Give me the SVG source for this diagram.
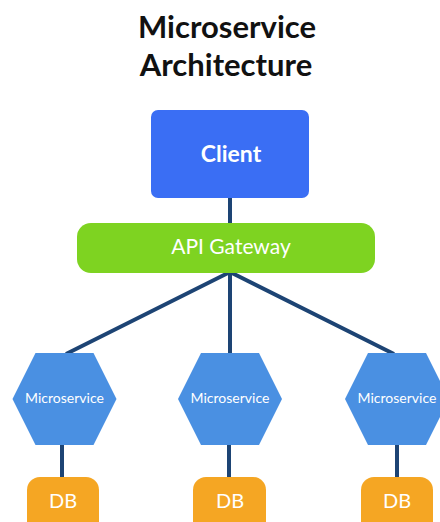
<svg xmlns="http://www.w3.org/2000/svg" width="440" height="522" viewBox="0 0 440 522">
  <style>
    .title { font-family: Lato, "Open Sans", sans-serif; font-weight: 700; font-size: 31px; fill: #111111; text-anchor: middle; }
    .label { font-family: Lato, "Open Sans", sans-serif; fill: #ffffff; text-anchor: middle; }
    .link { stroke: #1d4474; stroke-width: 4; fill: none; stroke-linecap: butt; }
    .hex { fill: #4a90e2; }
    .db { fill: #f5a623; }
  </style>
  <defs>
    <polygon id="hexShape" points="-52,0 -29,-46 29,-46 52,0 29,46 -29,46"/>
  </defs>
  <rect width="440" height="522" fill="#ffffff"/>

  <text class="title" x="227" y="38">Microservice</text>
  <text class="title" x="226" y="76">Architecture</text>

  <!-- connectors -->
  <g id="connectors">
    <line class="link" x1="230" y1="198" x2="230" y2="224"/>
    <line class="link" x1="230" y1="272" x2="66" y2="354"/>
    <line class="link" x1="230" y1="272" x2="230" y2="354"/>
    <line class="link" x1="230" y1="272" x2="394" y2="354"/>
    <line class="link" x1="62" y1="444" x2="62" y2="478"/>
    <line class="link" x1="229" y1="444" x2="229" y2="478"/>
    <line class="link" x1="397" y1="444" x2="397" y2="478"/>
  </g>

  <g id="client">
    <rect x="151" y="110" width="158" height="88" rx="7" fill="#3a6ef4"/>
    <text class="label" x="231" y="162" font-size="23" font-weight="700">Client</text>
  </g>

  <g id="gateway">
    <rect x="77" y="223" width="298" height="50" rx="14" fill="#7ed321"/>
    <text class="label" x="231" y="254" font-size="21">API Gateway</text>
  </g>

  <g id="service-1">
    <use href="#hexShape" class="hex" x="64.5" y="399"/>
    <text class="label" x="64.5" y="403" font-size="14">Microservice</text>
  </g>
  <g id="service-2">
    <use href="#hexShape" class="hex" x="230" y="399"/>
    <text class="label" x="230" y="403" font-size="14">Microservice</text>
  </g>
  <g id="service-3">
    <use href="#hexShape" class="hex" x="397" y="399"/>
    <text class="label" x="397" y="403" font-size="14">Microservice</text>
  </g>

  <g id="db-1">
    <rect x="27" y="477" width="72" height="60" rx="13" class="db"/>
    <text class="label" x="63" y="508" font-size="20">DB</text>
  </g>
  <g id="db-2">
    <rect x="193" y="477" width="73" height="60" rx="13" class="db"/>
    <text class="label" x="230" y="508" font-size="20">DB</text>
  </g>
  <g id="db-3">
    <rect x="361" y="477" width="72" height="60" rx="13" class="db"/>
    <text class="label" x="397" y="508" font-size="20">DB</text>
  </g>
</svg>
